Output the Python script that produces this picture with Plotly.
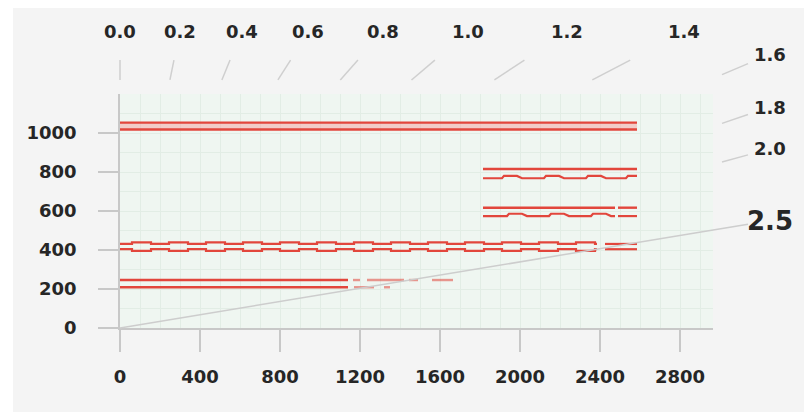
import numpy as np
import plotly.graph_objects as go

W, H = 804, 412

# ---- axes ----
x_ticks = [0, 400, 800, 1200, 1600, 2000, 2400, 2800]
y_ticks = [0, 200, 400, 600, 800, 1000]
x_range = [0, 2965]
y_range = [0, 1200]

# ---- rapidity fan drawn from the origin ----
fan_values = [0.0, 0.2, 0.4, 0.6, 0.8, 1.0, 1.2, 1.4, 1.6, 1.8, 2.0, 2.5]
fan_full_rays = [2.5]

# ---- tracks: (upper level, lower level) and extents ----
top_x = [0, 2585]
top_levels = [1053, 1018]

t800_x = [1815, 2585]
t800_levels = [815, 768]
t800_bumps = [1910, 2120, 2330, 2530]

t600_x = [1815, 2585]
t600_gap = [2475, 2490]
t600_levels = [617, 574]
t600_bumps = [1935, 2145, 2355]

t400_x = [0, 2385]
t400_tail = [2425, 2585]
t400_levels = [431, 404]
t400_links = [60, 245, 430, 615, 800, 985, 1170, 1355, 1540, 1725, 1910, 2095, 2280]

t230_levels = [246, 209]
t230_upper_runs = [[0, 1140], [1165, 1200], [1235, 1420], [1445, 1490], [1560, 1665]]
t230_lower_runs = [[0, 1140], [1170, 1270], [1320, 1350]]

RED = "#e2463c"
PINK = "rgba(244,170,165,0.55)"
GRID = "#e2ede5"
AXC = "#c8c8c8"
FONT = "DejaVu Sans"
TXT = "#262626"

# plot-area placement in the page (fractions of the figure)
xdom = [120 / W, 713 / W]
ydom = [(H - 328) / H, (H - 94) / H]


def runs_path(runs, level):
    xs, ys = [], []
    for a, b in runs:
        xs += [a, b, None]
        ys += [level, level, None]
    return xs, ys


def chain_path(x0, x1, links, level, d, length):
    xs, ys = [x0], [level]
    for s in links:
        xs += [s, s, s + length, s + length]
        ys += [level, level + d, level + d, level]
    xs.append(x1)
    ys.append(level)
    return xs, ys


def bump_path(x0, x1, bumps, level, h):
    xs, ys = [x0], [level]
    for b in bumps:
        for px, py in [(b, level), (b + 10, level + h), (b + 75, level + h), (b + 100, level)]:
            if px <= x1:
                xs.append(px)
                ys.append(py)
    if xs[-1] < x1:
        xs.append(x1)
        ys.append(ys[-1])
    return xs, ys


fig = go.Figure()


def add_line(xs, ys, color=RED, width=2.4, dash="solid", opacity=1.0):
    fig.add_trace(go.Scatter(x=xs, y=ys, mode="lines", xaxis="x", yaxis="y",
                             line=dict(color=color, width=width, dash=dash),
                             opacity=opacity, hoverinfo="skip", showlegend=False))


# top pair with soft band between the rails
add_line(top_x, [sum(top_levels) / 2] * 2, color=PINK, width=7)
add_line(top_x, [top_levels[0]] * 2)
add_line(top_x, [top_levels[1]] * 2)

# 800 pair
add_line(t800_x, [t800_levels[0]] * 2)
bx, by = bump_path(t800_x[0], t800_x[1], t800_bumps, t800_levels[1], 12)
add_line(bx, by, width=2.2)

# 600 pair (with a break)
add_line([t600_x[0], t600_gap[0], None, t600_gap[1], t600_x[1]],
         [t600_levels[0]] * 2 + [None] + [t600_levels[0]] * 2)
bx, by = bump_path(t600_x[0], t600_gap[0], t600_bumps, t600_levels[1], 12)
add_line(bx + [None, t600_gap[1], t600_x[1]], by + [None, t600_levels[1], t600_levels[1]], width=2.2)

# 400 pair: interlocking chain
cx, cy = chain_path(t400_x[0], t400_x[1], t400_links, t400_levels[0], 8, 95)
add_line(cx, cy, width=2.2)
cx, cy = chain_path(t400_x[0], t400_x[1], t400_links, t400_levels[1], -8, 95)
add_line(cx, cy, width=2.2)
add_line(t400_tail, [t400_levels[0]] * 2, width=2.2)
add_line(t400_tail, [t400_levels[1]] * 2, width=2.2)

# 230 pair, fading into broken pieces
ux, uy = runs_path(t230_upper_runs[:1], t230_levels[0])
add_line(ux, uy)
ux, uy = runs_path(t230_upper_runs[1:], t230_levels[0])
add_line(ux, uy, opacity=0.55)
lx, ly = runs_path(t230_lower_runs[:1], t230_levels[1])
add_line(lx, ly)
lx, ly = runs_path(t230_lower_runs[1:], t230_levels[1])
add_line(lx, ly, opacity=0.55)

# ---- overlay axes covering the whole page, same data units ----
px_x = (xdom[1] - xdom[0]) * W / (x_range[1] - x_range[0])
px_y = (ydom[1] - ydom[0]) * H / (y_range[1] - y_range[0])
x2_range = [x_range[0] - xdom[0] * W / px_x, x_range[0] + (1 - xdom[0]) * W / px_x]
y2_range = [y_range[0] - ydom[0] * H / px_y, y_range[0] + (1 - ydom[0]) * H / px_y]

Y_LABEL, Y_T0, Y_T1 = 1518, 1272, 1374
X_LABEL, X_T0, X_T1 = 3250, 3010, 3140

tick_x, tick_y = [], []
ray_x, ray_y = [], []
annotations = []
for v in fan_values:
    k = np.sinh(v) * px_y / px_x          # dx per dy in data units
    if k * Y_LABEL <= X_LABEL:
        lx, ly = k * Y_LABEL, Y_LABEL
        seg = [(k * Y_T0, Y_T0), (k * Y_T1, Y_T1)]
    else:
        lx, ly = X_LABEL, X_LABEL / k
        seg = [(X_T0, X_T0 / k), (X_T1, X_T1 / k)]
    if v in fan_full_rays:
        ray_x += [0, seg[1][0], None]
        ray_y += [0, seg[1][1], None]
    else:
        tick_x += [seg[0][0], seg[1][0], None]
        tick_y += [seg[0][1], seg[1][1], None]
    big = v in fan_full_rays
    annotations.append(dict(x=lx, y=ly, xref="x2", yref="y2", text=f"<b>{v:.1f}</b>",
                            showarrow=False, xanchor="center", yanchor="middle",
                            font=dict(family=FONT, size=26 if big else 18, color=TXT)))

fig.add_trace(go.Scatter(x=tick_x, y=tick_y, mode="lines", xaxis="x2", yaxis="y2",
                         line=dict(color="#cfcfcf", width=1.5), hoverinfo="skip", showlegend=False))
fig.add_trace(go.Scatter(x=ray_x, y=ray_y, mode="lines", xaxis="x2", yaxis="y2",
                         line=dict(color="#cdcdcd", width=1.5), hoverinfo="skip", showlegend=False))

tickfont = dict(family=FONT, size=18, color=TXT, weight="bold")

fig.update_layout(
    width=W, height=H,
    margin=dict(l=0, r=0, t=0, b=0, autoexpand=False),
    paper_bgcolor="white",
    plot_bgcolor="rgba(0,0,0,0)",
    showlegend=False,
    annotations=annotations,
    shapes=[
        dict(type="rect", xref="paper", yref="paper", x0=13 / W, x1=1, y0=0, y1=1 - 8 / H,
             fillcolor="#f4f4f4", line=dict(width=0), layer="below"),
        dict(type="rect", xref="x domain", yref="y domain", x0=0, x1=1, y0=0, y1=1,
             fillcolor="#eff6f1", line=dict(width=0), layer="below"),
    ],
    xaxis=dict(domain=xdom, range=x_range, anchor="y", tickvals=x_ticks, automargin=False,
               ticks="outside", ticklen=22, tickwidth=1.5, tickcolor=AXC,
               showline=True, linecolor=AXC, linewidth=1.5, zeroline=False,
               showgrid=True, gridcolor=GRID, gridwidth=1,
               minor=dict(dtick=100, showgrid=True, gridcolor=GRID),
               tickfont=tickfont, ticklabelstandoff=10),
    yaxis=dict(domain=ydom, range=y_range, anchor="x", tickvals=y_ticks, automargin=False,
               ticks="outside", ticklen=20, tickwidth=1.5, tickcolor=AXC,
               showline=True, linecolor=AXC, linewidth=1.5, zeroline=False,
               showgrid=True, gridcolor=GRID, gridwidth=1,
               minor=dict(dtick=100, showgrid=True, gridcolor=GRID),
               tickfont=tickfont, ticklabelstandoff=18),
    xaxis2=dict(domain=[0, 1], range=x2_range, anchor="y2", visible=False,
                fixedrange=True, automargin=False),
    yaxis2=dict(domain=[0, 1], range=y2_range, anchor="x2", visible=False,
                fixedrange=True, automargin=False),
)

fig.write_html("out.html")
